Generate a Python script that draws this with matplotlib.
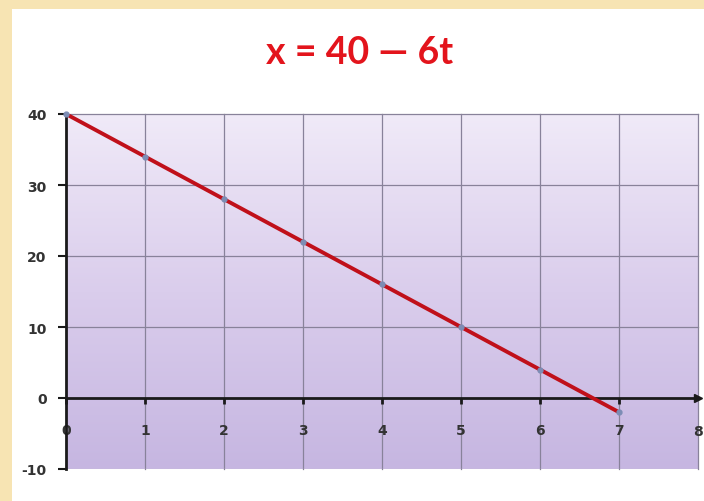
import numpy as np
import matplotlib
matplotlib.use("Agg")
import matplotlib.pyplot as plt
from matplotlib.colors import LinearSegmentedColormap
from matplotlib.patches import Rectangle

# x = 40 - 6t sampled at whole seconds
t = [0, 1, 2, 3, 4, 5, 6, 7]
x = [40, 34, 28, 22, 16, 10, 4, -2]

x_ticks = [0, 1, 2, 3, 4, 5, 6, 7, 8]
y_ticks = [-10, 0, 10, 20, 30, 40]
title = "x = 40 \u2014 6t"

fig = plt.figure(figsize=(7.04, 5.02), dpi=100)
fig.patch.set_facecolor("#f7e4b3")
# white slide panel inside the cream border
panel = Rectangle((12 / 704, 0), 1, 1 - 10 / 502, transform=fig.transFigure,
                  facecolor="white", edgecolor="none", zorder=-10)
fig.add_artist(panel)

ax = fig.add_axes([66 / 704, 32 / 502, 632 / 704, 355 / 502])
ax.set_xlim(0, 8)
ax.set_ylim(-10, 40)

# lavender gradient fill of the plot area
cmap = LinearSegmentedColormap.from_list("lav", ["#c6b6e1", "#dacdec", "#f0eaf8"])
grad = np.linspace(0, 1, 256).reshape(-1, 1)
ax.imshow(grad, extent=[0, 8, -10, 40], origin="lower", aspect="auto", cmap=cmap, zorder=0)

# grid
for gx in x_ticks[1:]:
    ax.axvline(gx, color="#88829a", lw=0.9, zorder=1, clip_on=False)
for gy in [10, 20, 30, 40]:
    ax.axhline(gy, color="#88829a", lw=0.9, zorder=1, clip_on=False)
ax.axhline(-10, color="#c9c3d6", lw=0.9, zorder=1)

for side in ["top", "right"]:
    ax.spines[side].set_visible(False)
ax.spines["bottom"].set_position(("data", 0))
ax.spines["left"].set_position(("data", 0))
for side in ["bottom", "left"]:
    ax.spines[side].set_linewidth(2)
    ax.spines[side].set_color("#1a1a1a")
    ax.spines[side].set_zorder(3)

# arrow head at the end of the t axis
ax.plot(1, 0, ">", color="#1a1a1a", ms=6, transform=ax.get_yaxis_transform(), clip_on=False, zorder=4)

ax.set_xticks(x_ticks[:-1])
ax.set_xticklabels([str(v) for v in x_ticks[:-1]])
ax.set_yticks(y_ticks)
ax.set_yticklabels([str(v) for v in y_ticks])
ax.tick_params(axis="x", direction="out", length=4, width=2, color="#1a1a1a", pad=14,
               labelsize=10, labelcolor="#333333")
ax.tick_params(axis="y", direction="out", length=6, width=1.5, color="#1a1a1a", pad=8,
               labelsize=10, labelcolor="#333333")
for lab in ax.get_xticklabels() + ax.get_yticklabels():
    lab.set_fontweight("bold")
# label for the last grid column, under the arrow
ax.text(x_ticks[-1], -4.6, str(x_ticks[-1]), ha="center", va="center", fontsize=10,
        fontweight="bold", color="#333333", clip_on=False)

ax.plot(t, x, color="#c0101a", lw=2.8, zorder=5, solid_capstyle="round")
ax.plot(t, x, "o", color="#7d8db5", ms=3.5, zorder=6, clip_on=False)

fig.text(360 / 704, 1 - 53 / 502, title, ha="center", va="center", fontsize=27,
         fontweight="bold", color="#e3141c", family="Lato")

fig.savefig("out.png", dpi=100, facecolor=fig.get_facecolor())
